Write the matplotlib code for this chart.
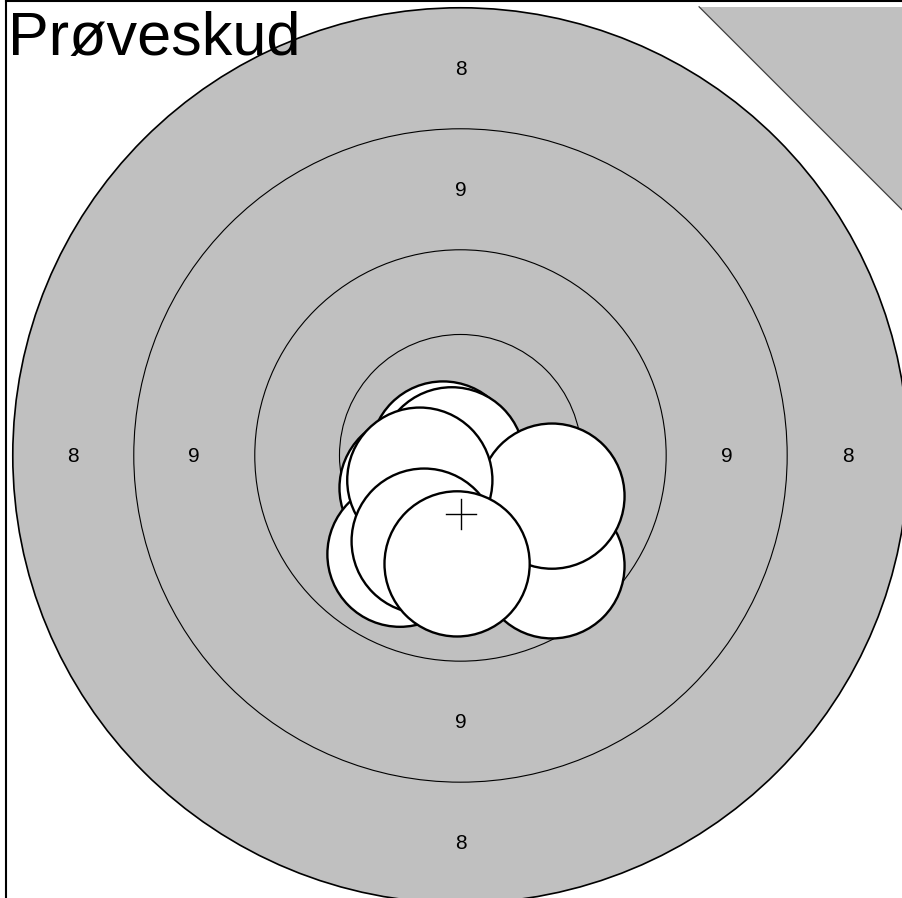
import matplotlib
matplotlib.use('Agg')
import matplotlib.pyplot as plt
from matplotlib.patches import Circle, Polygon

plt.rcParams['font.family'] = ['Liberation Sans', 'DejaVu Sans']

# ring radii (mm), outermost first
ring_values = [8, 9, 10, 11]
ring_radii = [9.25, 6.75, 4.25, 2.5]

# shot holes (mm from centre), in the order they were drawn
shot_x = [-0.36, -1.00, -0.18, -1.25, 1.89, 1.89, -0.84, -0.75, -0.07]
shot_y = [0.03, -0.67, -0.09, -2.04, -2.28, -0.84, -0.51, -1.77, -2.24]
shot_r = 1.5

# mean point of impact as marked on the target
mpi_x, mpi_y = 0.01, -1.21

title = "Prøveskud"

W, H = 902, 898
L = 9.39
scale = 48.4  # px per mm
fig = plt.figure(figsize=(W / 100, H / 100), dpi=100)
size_px = 2 * L * scale
ax = fig.add_axes([6 / W, 1 - (1 + size_px) / H, size_px / W, size_px / H])
ax.set_xlim(-L, L)
ax.set_ylim(-L, L)
ax.set_xticks([])
ax.set_yticks([])
for sp in ax.spines.values():
    sp.set_linewidth(1.5)

grey = '#c0c0c0'

# corner triangle
tx, ty = 4.93, 9.27
far = L + 1
ax.add_patch(Polygon([(tx, ty), (far, ty), (far, ty - (far - tx))],
                     closed=True, facecolor=grey, edgecolor='none', zorder=1))
ax.plot([tx, far], [ty, ty - (far - tx)], color='#404040', lw=0.9, zorder=1)

# target
ax.add_patch(Circle((0, 0), ring_radii[0], facecolor=grey, edgecolor='black',
                    lw=1.2, zorder=2))
for r in ring_radii[1:]:
    ax.add_patch(Circle((0, 0), r, facecolor='none', edgecolor='black',
                        lw=0.8, zorder=2))

# ring numbers halfway between rings
for i in range(2):
    rm = (ring_radii[i] + ring_radii[i + 1]) / 2
    for px, py in [(0, rm), (0, -rm), (-rm, 0), (rm, 0)]:
        ax.text(px, py - 0.02, str(ring_values[i]), ha='center', va='center',
                fontsize=15, zorder=3)

# shots
for i, (sx, sy) in enumerate(zip(shot_x, shot_y)):
    ax.add_patch(Circle((sx, sy), shot_r, facecolor='white', edgecolor='black',
                        lw=1.7, zorder=4 + i * 0.01))

# cross at mean point of impact
c = 0.31
ax.plot([mpi_x - c, mpi_x + c], [mpi_y, mpi_y], color='black', lw=1.0, zorder=5)
ax.plot([mpi_x, mpi_x], [mpi_y - c, mpi_y + c], color='black', lw=1.0, zorder=5)

fig.text(8 / W, 1 - 55 / H, title, fontsize=44, va='baseline', ha='left')

fig.savefig('out.png', dpi=100)
